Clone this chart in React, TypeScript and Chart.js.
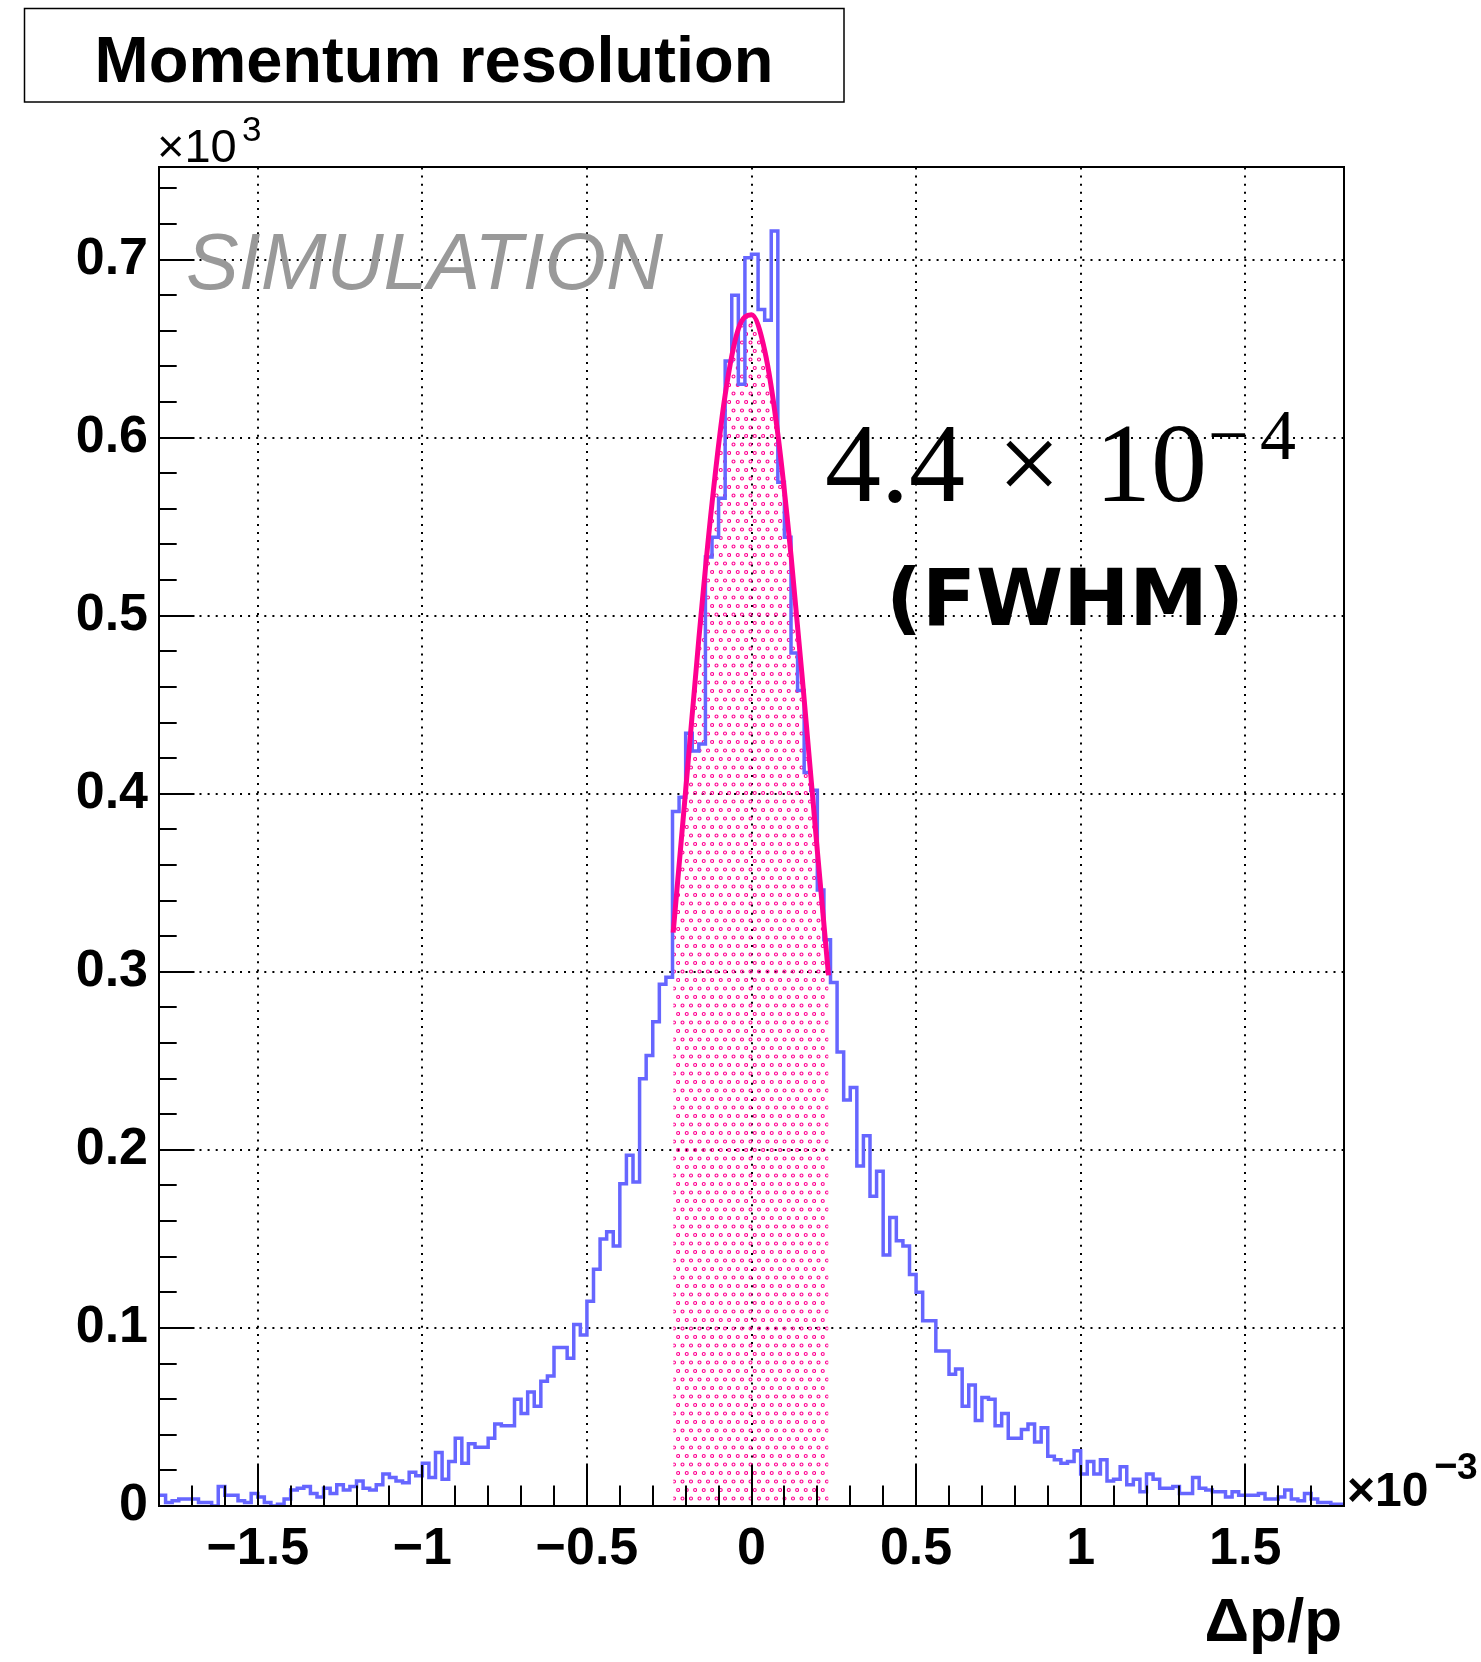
import React, { useEffect, useRef } from "react";
import { Chart, registerables } from "chart.js";

Chart.register(...registerables);

const CANVAS_W = 1481;
const CANVAS_H = 1662;

// Histogram: 180 bins of width 0.02 (x10^-3) starting at -1.8
const binLowEdge = -1.8;
const binWidth = 0.02;
const binCounts = [
  6, 2, 3, 4, 4, 4, 2, 2, 0, 11,
  6, 6, 3, 2, 7, 5, 2, 0, 1, 4,
  9, 10, 11, 7, 5, 10, 7, 12, 9, 11,
  14, 10, 9, 12, 18, 16, 14, 13, 19, 17,
  24, 16, 30, 15, 25, 38, 24, 35, 33, 33,
  38, 46, 45, 45, 60, 52, 64, 56, 70, 73,
  89, 89, 83, 102, 96, 115, 133, 150, 154, 146,
  181, 197, 182, 240, 253, 272, 293, 297, 390, 398,
  434, 424, 428, 533, 544, 566, 643, 680, 630, 701,
  703, 672, 666, 716, 575, 544, 479, 458, 412, 402,
  346, 318, 294, 255, 228, 235, 191, 208, 174, 188,
  141, 162, 149, 146, 130, 120, 104, 104, 87, 87,
  74, 77, 56, 68, 48, 61, 60, 45, 52, 38,
  38, 43, 46, 36, 44, 28, 26, 24, 25, 31,
  18, 25, 18, 26, 14, 15, 22, 12, 15, 8,
  18, 15, 10, 10, 11, 7, 7, 16, 10, 9,
  8, 8, 5, 8, 6, 6, 6, 7, 4, 4,
  5, 9, 4, 3, 7, 4, 2, 2, 1, 1,
];

// Fit curve
const fitX = [-0.238, -0.2, -0.16, -0.12, -0.08, -0.04, 0, 0.04, 0.08, 0.12, 0.16, 0.2, 0.234];
const fitY = [322, 402, 487, 563, 624, 661, 669, 649, 602, 534, 453, 368, 298];

// Axes
const xRange = [-1.8, 1.8];
const yRange = [0, 752];
const xMajorTicks = [-1.5, -1, -0.5, 0, 0.5, 1, 1.5];
const xMinorStep = 0.1;
const yMajorTicks = [0, 100, 200, 300, 400, 500, 600, 700];
const yMinorStep = 20;

const HIST_COLOR = "rgb(102,102,255)";
const FIT_COLOR = "rgb(255,0,144)";
const SANS = '"Liberation Sans", Arial, sans-serif';
const SERIF = '"Liberation Serif", "Times New Roman", serif';

function fmtX(v: number): string {
  if (Math.abs(v) < 1e-9) return "0";
  const s = String(Math.abs(v));
  return v < 0 ? "\u2212" + s : s;
}
function fmtY(v: number): string {
  if (v === 0) return "0";
  return String(Math.round(v) / 1000);
}

function makeRingPattern(): CanvasPattern | string {
  const c = document.createElement("canvas");
  c.width = 17;
  c.height = 17;
  const g = c.getContext("2d");
  if (!g) return FIT_COLOR;
  g.strokeStyle = FIT_COLOR;
  g.lineWidth = 1.1;
  const pts = [
    [2.5, 2.5],
    [11, 2.5],
    [6.75, 11],
    [15.1, 11],
  ];
  for (const [px, py] of pts) {
    g.beginPath();
    g.arc(px, py, 1.5, 0, Math.PI * 2);
    g.stroke();
  }
  return g.createPattern(c, "repeat") || FIT_COLOR;
}

function drawText(
  ctx: CanvasRenderingContext2D,
  s: string,
  x: number,
  y: number,
  font: string,
  color = "#000",
  align: CanvasTextAlign = "left"
) {
  ctx.font = font;
  ctx.fillStyle = color;
  ctx.textAlign = align;
  ctx.textBaseline = "alphabetic";
  ctx.fillText(s, x, y);
}

const rootStylePlugin = {
  id: "rootStyle",
  beforeDatasetsDraw(chart: any) {
    const { ctx, chartArea: a, scales } = chart;
    const x = scales.x;
    const y = scales.y;
    ctx.save();
    ctx.strokeStyle = "#000";
    ctx.lineWidth = 2;
    ctx.setLineDash([2, 6.1]);
    for (const v of xMajorTicks) {
      const px = Math.round(x.getPixelForValue(v));
      ctx.beginPath();
      ctx.moveTo(px, a.bottom);
      ctx.lineTo(px, a.top);
      ctx.stroke();
    }
    for (const v of yMajorTicks) {
      if (v === 0) continue;
      const py = Math.round(y.getPixelForValue(v));
      ctx.beginPath();
      ctx.moveTo(a.left, py);
      ctx.lineTo(a.right, py);
      ctx.stroke();
    }
    ctx.restore();
  },
  afterDatasetsDraw(chart: any) {
    const { ctx, chartArea: a, scales } = chart;
    const x = scales.x;
    const y = scales.y;
    ctx.save();
    ctx.strokeStyle = "#000";
    ctx.lineWidth = 2;
    ctx.setLineDash([]);
    // ticks on x axis (inside)
    const nx = Math.round((xRange[1] - xRange[0]) / xMinorStep);
    for (let i = 0; i <= nx; i++) {
      const v = Math.round((xRange[0] + i * xMinorStep) * 10) / 10;
      if (v <= xRange[0] || v >= xRange[1]) continue;
      const isMajor = xMajorTicks.some((m) => Math.abs(m - v) < 1e-6);
      const len = isMajor ? 41 : 20.5;
      const px = Math.round(x.getPixelForValue(v));
      ctx.beginPath();
      ctx.moveTo(px, a.bottom);
      ctx.lineTo(px, a.bottom - len);
      ctx.stroke();
    }
    // ticks on y axis (inside)
    for (let v = yMinorStep; v < yRange[1]; v += yMinorStep) {
      const isMajor = yMajorTicks.includes(v);
      const len = isMajor ? 35.5 : 17.7;
      const py = Math.round(y.getPixelForValue(v));
      ctx.beginPath();
      ctx.moveTo(a.left, py);
      ctx.lineTo(a.left + len, py);
      ctx.stroke();
    }
    // frame
    ctx.strokeRect(a.left, a.top, a.right - a.left, a.bottom - a.top);
    ctx.restore();
  },
  afterDraw(chart: any) {
    const { ctx } = chart;
    ctx.save();
    // title box
    ctx.fillStyle = "#fff";
    ctx.fillRect(24.5, 8.5, 819.5, 93.5);
    ctx.strokeStyle = "#000";
    ctx.lineWidth = 1.5;
    ctx.strokeRect(24.5, 8.5, 819.5, 93.5);
    drawText(ctx, "Momentum resolution", 434, 81.5, `bold 65px ${SANS}`, "#000", "center");

    // y-axis exponent
    drawText(ctx, "\u00d710", 157, 162, `47px ${SANS}`);
    drawText(ctx, "3", 242, 141, `35px ${SANS}`);

    // x-axis exponent
    drawText(ctx, "\u00d710", 1347, 1506, `bold 48px ${SANS}`);
    drawText(ctx, "\u2212", 1434, 1479, `bold 40px ${SANS}`);
    drawText(ctx, "3", 1457, 1479, `bold 37px ${SANS}`);

    // x-axis title
    drawText(ctx, "\u0394p/p", 1342, 1641, `bold 62px ${SANS}`, "#000", "right");

    // SIMULATION
    drawText(ctx, "SIMULATION", 186, 289, `italic 79px ${SANS}`, "#999999");

    // resolution text
    drawText(ctx, "4.4", 825, 501, `112px ${SERIF}`);
    drawText(ctx, "\u00d7", 1029, 501, `112px ${SERIF}`, "#000", "center");
    drawText(ctx, "10", 1095, 501, `112px ${SERIF}`);
    drawText(ctx, "\u2212", 1208, 459, `72px ${SERIF}`);
    drawText(ctx, "4", 1260, 459, `72px ${SERIF}`);
    drawText(ctx, "(FWHM)", 1065, 625, `bold 79px "DejaVu Sans", sans-serif`, "#000", "center");
    ctx.restore();
  },
};

export default function App() {
  const canvasRef = useRef<HTMLCanvasElement | null>(null);

  useEffect(() => {
    const canvas = canvasRef.current;
    if (!canvas) return;

    const histPoints: { x: number; y: number }[] = [];
    binCounts.forEach((c, i) => {
      const lo = binLowEdge + i * binWidth;
      const hi = binLowEdge + (i + 1) * binWidth;
      histPoints.push({ x: lo, y: c });
      histPoints.push({ x: hi, y: c });
    });
    const fitPoints = fitX.map((xv, i) => ({ x: xv, y: fitY[i] }));
    const pattern = makeRingPattern();

    const chart = new Chart(canvas, {
      type: "line",
      data: {
        datasets: [
          {
            label: "fit",
            data: fitPoints,
            borderColor: FIT_COLOR,
            borderWidth: 5,
            pointRadius: 0,
            fill: false,
            cubicInterpolationMode: "monotone",
            order: 0,
          },
          {
            label: "hist",
            data: histPoints,
            borderColor: HIST_COLOR,
            borderWidth: 3.5,
            pointRadius: 0,
            fill: false,
            tension: 0,
            borderJoinStyle: "miter",
            order: 1,
          },
          {
            label: "fitArea",
            data: fitPoints,
            borderWidth: 0,
            borderColor: "rgba(0,0,0,0)",
            backgroundColor: pattern as any,
            pointRadius: 0,
            fill: "origin",
            cubicInterpolationMode: "monotone",
            order: 2,
          },
        ],
      },
      options: {
        animation: false,
        responsive: false,
        devicePixelRatio: 1,
        events: [],
        layout: { padding: { top: 167, right: 137, left: 0, bottom: 0 } },
        plugins: {
          legend: { display: false },
          tooltip: { enabled: false },
          title: { display: false },
        },
        scales: {
          x: {
            type: "linear",
            min: xRange[0],
            max: xRange[1],
            grid: { display: false, drawTicks: false },
            border: { display: false },
            ticks: {
              color: "#000",
              font: { family: SANS, size: 52, weight: "bold" },
              padding: 12,
              autoSkip: false,
              maxRotation: 0,
              minRotation: 0,
              callback: (v: any) => fmtX(Number(v)),
            },
            afterBuildTicks: (s: any) => {
              s.ticks = xMajorTicks.map((v) => ({ value: v }));
            },
            afterFit: (s: any) => {
              s.height = 156;
            },
          },
          y: {
            type: "linear",
            min: yRange[0],
            max: yRange[1],
            grid: { display: false, drawTicks: false },
            border: { display: false },
            ticks: {
              color: "#000",
              font: { family: SANS, size: 52, weight: "bold" },
              padding: 11,
              autoSkip: false,
              callback: (v: any) => fmtY(Number(v)),
            },
            afterBuildTicks: (s: any) => {
              s.ticks = yMajorTicks.map((v) => ({ value: v }));
            },
            afterFit: (s: any) => {
              s.width = 159;
            },
          },
        },
      } as any,
      plugins: [rootStylePlugin as any],
    });

    return () => {
      chart.destroy();
    };
  }, []);

  return (
    <div
      style={{
        position: "absolute",
        left: 0,
        top: 0,
        width: CANVAS_W,
        height: CANVAS_H,
        background: "#fff",
        overflow: "hidden",
      }}
    >
      <canvas
        ref={canvasRef}
        width={CANVAS_W}
        height={CANVAS_H}
        style={{ display: "block", width: CANVAS_W, height: CANVAS_H }}
      />
    </div>
  );
}
